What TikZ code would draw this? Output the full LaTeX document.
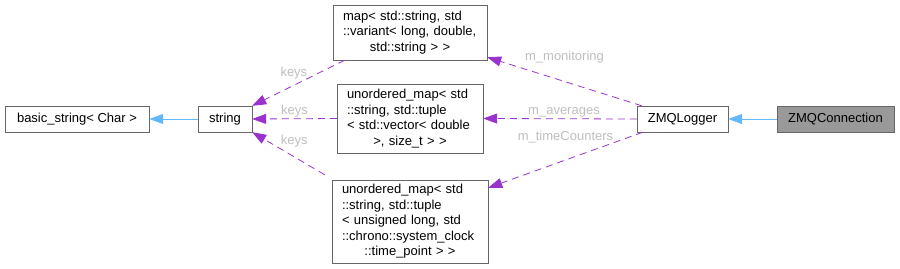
\documentclass[tikz,border=0pt]{standalone}
\usepackage{fontspec}
\setmainfont{Liberation Sans}
\usepackage{xcolor}
\usetikzlibrary{arrows.meta}
\definecolor{cborder}{RGB}{102, 102, 102}
\definecolor{cfill}{RGB}{153, 153, 153}
\definecolor{cpurple}{RGB}{154, 50, 205}
\definecolor{cblue}{RGB}{99, 184, 255}
\definecolor{clabel}{RGB}{190, 190, 190}

\begin{document}
\begin{tikzpicture}[x=1pt, y=-1pt,
  font=\fontsize{13}{15.5}\selectfont,
  cls/.style={rectangle, draw=cborder, fill=white, inner xsep=10pt, inner ysep=0pt, minimum height=26pt},
  multi/.style={cls, align=left},
  inherit/.style={-{Triangle[length=14pt, width=10pt]}, color=cblue, line width=0.8pt},
  member/.style={-{Triangle[length=14pt, width=10pt]}, color=cpurple, line width=0.8pt, dash pattern=on 7pt off 5pt},
  lbl/.style={text=clabel, inner sep=1pt},
]
\useasboundingbox (0,0) rectangle (900,268);

% ---- classes ----
\node[cls, minimum width=144pt] (bstr) at (77,119) {basic\_string< Char >};
\node[cls, minimum width=54pt] (str) at (225,119) {string};
\node[cls, minimum width=91pt] (zlog) at (682.5,119) {ZMQLogger};
\node[cls, fill=cfill, minimum width=117pt] (zconn) at (835.5,119) {ZMQConnection};

% ---- member containers ----
\node[multi, text width=134pt, minimum height=55pt] (map) at (410,32.5)
  {map< std::string, std\\::variant< long, double,\par{\centering std::string > >\par}};
\node[multi, text width=126pt, minimum height=69pt] (umavg) at (410,118.5)
  {unordered\_map< std\\::string, std::tuple\\< std::vector< double\par{\centering >, size\_t > >\par}};
\node[multi, text width=136pt, minimum height=83pt] (umtime) at (410,221.5)
  {unordered\_map< std\\::string, std::tuple\\< unsigned long, std\\::chrono::system\_clock\par{\centering ::time\_point > >\par}};

% ---- inheritance ----
\draw[inherit] (zconn.west) -- (zlog.east);
\draw[inherit] (str.west) -- (bstr.east);

% ---- members of ZMQLogger ----
\draw[member] ([xshift=5pt]zlog.north west) -- node[lbl, pos=0.5, yshift=24pt]{m\_monitoring} ([yshift=3pt]map.south east);
\draw[member] (zlog.west) -- node[lbl, above, xshift=4pt]{m\_averages} (umavg.east);
\draw[member] ([xshift=6pt]zlog.south west) -- node[lbl, pos=0.5, yshift=23pt]{m\_timeCounters} ([yshift=-8pt]umtime.north east);

% ---- keys ----
\draw[member] ([xshift=12pt]map.south west) -- node[lbl, pos=0.55, yshift=12pt]{keys} (str.north east);
\draw[member] (umavg.west) -- node[lbl, above]{keys} (str.east);
\draw[member] ([xshift=-7pt, yshift=5pt]umtime.north west) -- node[lbl, pos=0.42, yshift=16pt]{keys} (str.south east);

\end{tikzpicture}
\end{document}
